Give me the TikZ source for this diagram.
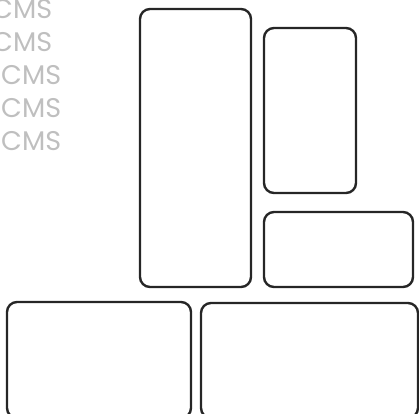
\documentclass[tikz,border=0pt]{standalone}
\usepackage{fontspec}
\setmainfont{Poppins}
\usepackage{xcolor}
\usepackage{tikz}

\begin{document}
\begin{tikzpicture}[x=1pt, y=-1pt,
    panel/.style={line width=2.4pt, draw=black!85, rounded corners=10pt},
    brand/.style={font=\fontsize{27}{27}\selectfont, text=gray!50, inner sep=0pt, anchor=base west}]
        \useasboundingbox (0,0) rectangle (419,413);

        % repeated logo words
        \foreach \x/\y [count=\i] in {-8/18, -8/51, 1/84, 1/117, 1/150} {
            \node[brand] (cms\i) at (\x,\y) {CMS};
        }

        % upper panels
        \draw[panel] (140,9) rectangle (251,287);
        \draw[panel] (264,28) rectangle (356,193);
        \draw[panel] (264,212) rectangle (413,287);

        % lower panels
        \draw[panel] (7,302) rectangle (191,418);
        \draw[panel] (201,303) rectangle (418,418);
    \end{tikzpicture}
\end{document}
